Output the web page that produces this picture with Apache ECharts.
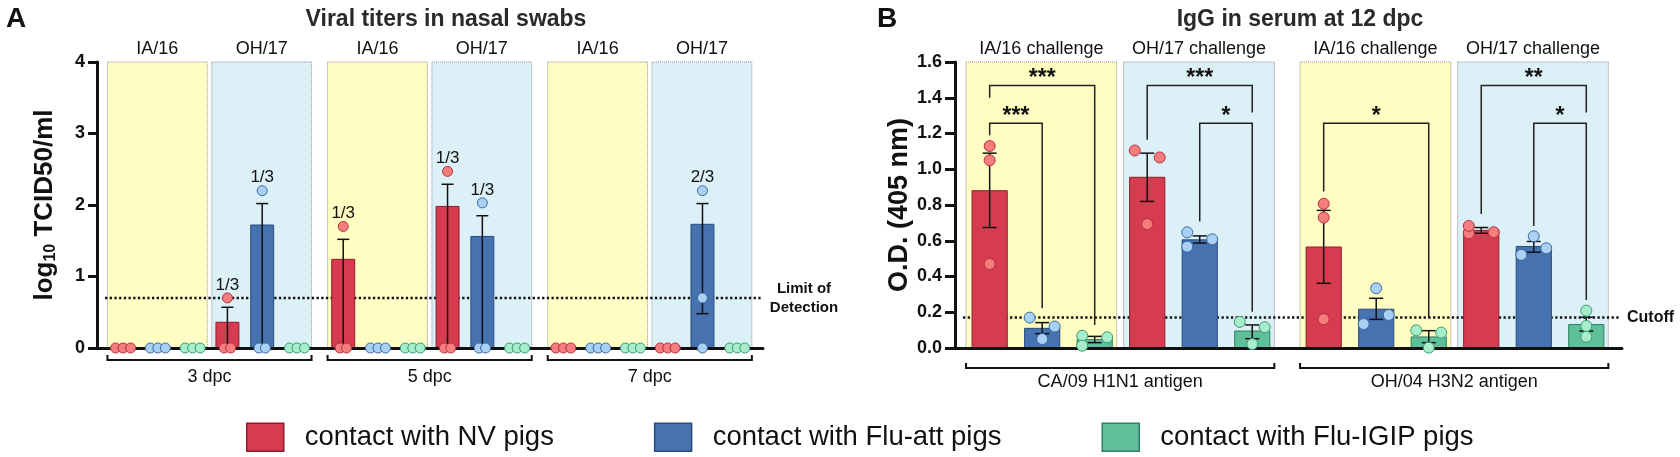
<!DOCTYPE html>
<html>
<head>
<meta charset="utf-8">
<script src="https://cdn.jsdelivr.net/npm/echarts@6/dist/echarts.min.js"></script>
<style>
  html, body { margin: 0; padding: 0; background: #fff; }
  #chart { width: 1680px; height: 457px; }
</style>
</head>
<body>
<div id="chart"></div>
<script>
// ---------- data : panel A (viral titers, log10 TCID50/ml) ----------
const dpcLabels = ['3 dpc', '5 dpc', '7 dpc'];
const strainA = ['IA/16', 'OH/17', 'IA/16', 'OH/17', 'IA/16', 'OH/17'];
const titerNV     = [0, 0.36, 1.24, 1.98, 0, 0];
const titerAtt    = [0, 1.72, 0, 1.56, 0, 1.73];
const titerIGIP   = [0, 0, 0, 0, 0, 0];
const titerHiNV   = [0, 0.57, 1.52, 2.29, 0, 0];
const titerHiAtt  = [0, 2.02, 0, 1.85, 0, 2.02];
const titerHiIGIP = [0, 0, 0, 0, 0, 0];
const titerLoNV   = [0, 0, 0, 0, 0, 0];
const titerLoAtt  = [0, 0, 0, 0, 0, 0.48];
const titerLoIGIP = [0, 0, 0, 0, 0, 0];
const pigsNV   = [[0, 0, 0], [0.7, 0, 0], [1.7, 0, 0], [2.47, 0, 0], [0, 0, 0], [0, 0, 0]];
const pigsAtt  = [[0, 0, 0], [2.2, 0, 0], [0, 0, 0], [2.03, 0, 0], [0, 0, 0], [2.2, 0.7, 0]];
const pigsIGIP = [[0, 0, 0], [0, 0, 0], [0, 0, 0], [0, 0, 0], [0, 0, 0], [0, 0, 0]];
const positiveNV   = ['', '1/3', '1/3', '1/3', '', ''];
const positiveAtt  = ['', '1/3', '', '1/3', '', '2/3'];
const positiveIGIP = ['', '', '', '', '', ''];
const limitOfDetection = 0.7;
const yTicksA = [0, 1, 2, 3, 4];

// ---------- data : panel B (IgG O.D. 405 nm) ----------
const antigenLabels = ['CA/09 H1N1 antigen', 'OH/04 H3N2 antigen'];
const challengeB = ['IA/16 challenge', 'OH/17 challenge', 'IA/16 challenge', 'OH/17 challenge'];
const odNV     = [0.88, 0.955, 0.565, 0.658];
const odAtt    = [0.11, 0.605, 0.217, 0.568];
const odIGIP   = [0.047, 0.095, 0.062, 0.131];
const odHiNV   = [1.09, 1.09, 0.77, 0.674];
const odHiAtt  = [0.142, 0.627, 0.278, 0.596];
const odHiIGIP = [0.065, 0.129, 0.097, 0.172];
const odLoNV   = [0.674, 0.82, 0.362, 0.642];
const odLoAtt  = [0.08, 0.587, 0.16, 0.536];
const odLoIGIP = [0.03, 0.052, 0.03, 0.095];
const serumNV   = [[1.13, 1.05, 0.47], [1.105, 1.066, 0.693], [0.807, 0.73, 0.161], [0.642, 0.648, 0.683]];
const serumAtt  = [[0.17, 0.12, 0.05], [0.647, 0.608, 0.567], [0.334, 0.134, 0.185], [0.625, 0.521, 0.558]];
const serumIGIP = [[0.069, 0.06, 0.013], [0.146, 0.116, 0.022], [0.099, 0.086, 0.002], [0.209, 0.123, 0.063]];
const cutoff = 0.17;
// significance brackets: box, compared groups, bracket level, leg ends
const sigBox   = [0, 0, 1, 1, 2, 3, 3];
const sigFrom  = [0, 0, 0, 1, 0, 0, 1];
const sigTo    = [2, 1, 2, 2, 2, 2, 2];
const sigLevel = [1.468, 1.258, 1.468, 1.258, 1.258, 1.468, 1.258];
const sigLeft  = [1.40, 1.19, 1.165, 0.708, 0.876, 0.749, 0.683];
const sigRight = [0.129, 0.222, 1.318, 0.203, 0.166, 1.318, 0.269];
const sigText  = ['***', '***', '***', '*', '*', '**', '*'];

// ---------- styles ----------
const FONT = '"Liberation Sans", Arial, Helvetica, sans-serif';
const GROUP_NAMES = ['contact with NV pigs', 'contact with Flu-att pigs', 'contact with Flu-IGIP pigs'];
const BAR_FILL = ['#d63b50', '#4672b0', '#5fbf9b'];
const BAR_EDGE = ['#8c1d2c', '#2b4b7c', '#2f8062'];
const DOT_FILL = ['#f47d7d', '#aad0f3', '#a8edcb'];
const DOT_EDGE = ['#b8303f', '#3a69a6', '#3b9a70'];
const BOX_FILL = ['#fffdc2', '#dcf0f8'];

const panels = [
  {
    period: 6.33, xmin: -0.75, xmax: 18.4, ymax: 4, barW: 0.66, cap: 12, r: 5,
    boxLabels: strainA, spanLabels: dpcLabels,
    means: [titerNV, titerAtt, titerIGIP], his: [titerHiNV, titerHiAtt, titerHiIGIP],
    los: [titerLoNV, titerLoAtt, titerLoIGIP], pigs: [pigsNV, pigsAtt, pigsIGIP],
    tags: [positiveNV, positiveAtt, positiveIGIP],
    swarm: { near: 10, step: 12, eq2: 6.5, eq3: 7.5 },
    ref: limitOfDetection, refText: 'Limit of\nDetection',
    bracketDy: 12, bracketTextDy: 29
  },
  {
    period: 6.36, xmin: -0.66, xmax: 12.04, ymax: 1.6, barW: 0.67, cap: 14, r: 5.5,
    boxLabels: challengeB, spanLabels: antigenLabels,
    means: [odNV, odAtt, odIGIP], his: [odHiNV, odHiAtt, odHiIGIP],
    los: [odLoNV, odLoAtt, odLoIGIP], pigs: [serumNV, serumAtt, serumIGIP],
    tags: null,
    swarm: { near: 10, step: 12.5, eq2: 6.5, eq3: 7.5 },
    ref: cutoff, refText: 'Cutoff',
    bracketDy: 20, bracketTextDy: 34
  }
];

function slotX(p, box, g) { return Math.floor(box / 2) * p.period + (box % 2) * 3 + g; }

// spread dots that would overlap (GraphPad-like scatter)
function swarm(pys, s) {
  const n = pys.length;
  const idx = pys.map((_, i) => i).sort((a, b) => pys[a] - pys[b]);
  const off = new Array(n).fill(0);
  let i = 0;
  while (i < n) {
    let j = i;
    while (j + 1 < n && pys[idx[j + 1]] - pys[idx[j]] < s.near) j++;
    const mem = idx.slice(i, j + 1).sort((a, b) => a - b);
    const m = mem.length;
    if (m > 1) {
      if (pys[idx[j]] - pys[idx[i]] < 2) {
        const st = m === 2 ? s.eq2 : s.eq3;
        mem.forEach((d, k) => { off[d] = (k - (m - 1) / 2) * st; });
      } else {
        mem.forEach((d, k) => { off[d] = (k % 2 === 0 ? -1 : 1) * s.step; });
      }
    }
    i = j + 1;
  }
  return off;
}

const series = [];
panels.forEach((p, pi) => {
  const nBox = p.boxLabels.length;
  const boxes = Array.from({ length: nBox }, (_, b) => b);
  const ax = { xAxisIndex: pi, yAxisIndex: pi };

  // shaded strain boxes + strain labels
  series.push(Object.assign({
    type: 'custom', z: 1, silent: true,
    data: boxes.map(b => [slotX(p, b, 0), 0]),
    renderItem(params, api) {
      const x = api.value(0), k = params.dataIndex;
      const tl = api.coord([x - 0.45, p.ymax]), br = api.coord([x + 2.42, 0]);
      return { type: 'group', children: [
        { type: 'rect', shape: { x: tl[0], y: tl[1], width: br[0] - tl[0], height: br[1] - tl[1] },
          style: { fill: BOX_FILL[k % 2], stroke: '#8f8f8f', lineWidth: 1, lineDash: [1, 1] } },
        { type: 'text', x: (tl[0] + br[0]) / 2, y: tl[1] - 13,
          style: { text: p.boxLabels[k], fontSize: 18, fontFamily: FONT, fill: '#111', align: 'center', verticalAlign: 'middle' } }
      ] };
    }
  }, ax));

  // reference dotted line (LOD / cutoff)
  series.push(Object.assign({
    type: 'custom', z: 1.5, silent: true,
    data: [[p.xmin, p.ref]],
    renderItem(params, api) {
      const a = api.coord([p.xmin, api.value(1)]), b = api.coord([p.xmax, api.value(1)]);
      const label = pi === 0
        ? { type: 'text', x: b[0] + 41, y: b[1], style: { text: p.refText, align: 'center', verticalAlign: 'middle', lineHeight: 19, fontSize: 15, fontWeight: 'bold', fontFamily: FONT, fill: '#111' } }
        : { type: 'text', x: b[0] + 5, y: b[1], style: { text: p.refText, align: 'left', verticalAlign: 'middle', fontSize: 16, fontWeight: 'bold', fontFamily: FONT, fill: '#111' } };
      return { type: 'group', children: [
        { type: 'line', shape: { x1: a[0] + 8, y1: a[1], x2: b[0] - 2, y2: b[1] },
          style: { stroke: '#111', lineWidth: 2.5, lineDash: [2.3, 2.4] } },
        label
      ] };
    }
  }, ax));

  // span brackets below the axis
  series.push(Object.assign({
    type: 'custom', z: 3, silent: true,
    data: p.spanLabels.map((_, s) => [slotX(p, 2 * s, 0), slotX(p, 2 * s + 1, 0)]),
    renderItem(params, api) {
      const a = api.coord([api.value(0) - 0.45, 0]), b = api.coord([api.value(1) + 2.42, 0]);
      const y = a[1] + p.bracketDy;
      return { type: 'group', children: [
        { type: 'polyline', shape: { points: [[a[0], y - 5], [a[0], y], [b[0], y], [b[0], y - 5]] },
          style: { stroke: '#111', lineWidth: 2, fill: null } },
        { type: 'text', x: (a[0] + b[0]) / 2, y: a[1] + p.bracketTextDy,
          style: { text: p.spanLabels[params.dataIndex], fontSize: 18, fontFamily: FONT, fill: '#111', align: 'center', verticalAlign: 'middle' } }
      ] };
    }
  }, ax));

  // bars
  [0, 1, 2].forEach(g => {
    series.push(Object.assign({
      type: 'custom', name: GROUP_NAMES[g], z: 2, silent: true,
      itemStyle: { color: BAR_FILL[g] },
      data: boxes.map(b => [slotX(p, b, g), p.means[g][b]]),
      renderItem(params, api) {
        const x = api.value(0), v = api.value(1);
        if (!(v > 0)) return null;
        const base = api.coord([x, 0]), top = api.coord([x, v]);
        const w = api.size([p.barW, 0])[0];
        return { type: 'rect', shape: { x: base[0] - w / 2, y: top[1], width: w, height: base[1] - top[1] },
          style: { fill: BAR_FILL[g], stroke: BAR_EDGE[g], lineWidth: 1 } };
      }
    }, ax));
  });

  // error bars
  const errData = [];
  [0, 1, 2].forEach(g => boxes.forEach(b => {
    if (p.his[g][b] > 0) errData.push([slotX(p, b, g), p.los[g][b], p.his[g][b]]);
  }));
  series.push(Object.assign({
    type: 'custom', z: 4, silent: true,
    data: errData,
    renderItem(params, api) {
      const x = api.value(0);
      const lo = api.coord([x, api.value(1)]), hi = api.coord([x, api.value(2)]);
      const h = p.cap / 2, st = { stroke: '#111', lineWidth: 1.5 };
      return { type: 'group', children: [
        { type: 'line', shape: { x1: lo[0], y1: lo[1], x2: hi[0], y2: hi[1] }, style: st },
        { type: 'line', shape: { x1: hi[0] - h, y1: hi[1], x2: hi[0] + h, y2: hi[1] }, style: st },
        { type: 'line', shape: { x1: lo[0] - h, y1: lo[1], x2: lo[0] + h, y2: lo[1] }, style: st }
      ] };
    }
  }, ax));

  // individual pigs
  const dotData = [], dotMeta = [];
  [0, 1, 2].forEach(g => boxes.forEach(b => {
    dotData.push([slotX(p, b, g)].concat(p.pigs[g][b]));
    dotMeta.push({ g: g, tag: p.tags ? p.tags[g][b] : '' });
  }));
  series.push(Object.assign({
    type: 'custom', z: 5, silent: true,
    data: dotData,
    renderItem(params, api) {
      const meta = dotMeta[params.dataIndex], x = api.value(0);
      const pts = [1, 2, 3].map(d => api.coord([x, api.value(d)]));
      const off = swarm(pts.map(q => q[1]), p.swarm);
      const kids = pts.map((q, d) => ({
        type: 'circle', shape: { cx: q[0] + off[d], cy: q[1], r: p.r },
        style: { fill: DOT_FILL[meta.g], stroke: DOT_EDGE[meta.g], lineWidth: 1 }
      }));
      if (meta.tag) {
        const topY = Math.min.apply(null, pts.map(q => q[1]));
        kids.push({ type: 'text', x: pts[0][0], y: topY - 13,
          style: { text: meta.tag, fontSize: 17, fontFamily: FONT, fill: '#111', align: 'center', verticalAlign: 'middle' } });
      }
      return { type: 'group', children: kids };
    }
  }, ax));
});

// significance brackets (panel B)
series.push({
  type: 'custom', xAxisIndex: 1, yAxisIndex: 1, z: 6, silent: true,
  data: sigBox.map((b, i) => [slotX(panels[1], b, sigFrom[i]), slotX(panels[1], b, sigTo[i]), sigLevel[i], sigLeft[i], sigRight[i]]),
  renderItem(params, api) {
    const x1 = api.value(0), x2 = api.value(1), lv = api.value(2);
    const a = api.coord([x1, lv]), b = api.coord([x2, lv]);
    const l = api.coord([x1, api.value(3)]), r = api.coord([x2, api.value(4)]);
    return { type: 'group', children: [
      { type: 'polyline', shape: { points: [l, a, b, r] }, style: { stroke: '#222', lineWidth: 1.5, fill: null } },
      { type: 'text', x: (a[0] + b[0]) / 2, y: a[1] + 5,
        style: { text: sigText[params.dataIndex], fontSize: 23, fontWeight: 'bold', fontFamily: FONT, fill: '#111', align: 'center', verticalAlign: 'bottom' } }
    ] };
  }
});

const xLine = { show: true, onZero: false, lineStyle: { color: '#111', width: 3 } };
const yLine = { show: true, onZero: false, lineStyle: { color: '#111', width: 3 } };
const option = {
  animation: false,
  backgroundColor: '#fff',
  title: [
    { text: 'A', left: 1, top: 0, textStyle: { fontSize: 28, fontWeight: 'bold', fontFamily: FONT, color: '#111' } },
    { text: 'Viral titers in nasal swabs', left: 441, top: 3, textAlign: 'center', textStyle: { fontSize: 23, fontWeight: 'bold', fontFamily: FONT, color: '#2a2a2a' } },
    { text: 'B', left: 872, top: 0, textStyle: { fontSize: 28, fontWeight: 'bold', fontFamily: FONT, color: '#111' } },
    { text: 'IgG in serum at 12 dpc', left: 1295, top: 3, textAlign: 'center', textStyle: { fontSize: 23, fontWeight: 'bold', fontFamily: FONT, color: '#2a2a2a' } }
  ],
  legend: {
    bottom: 0, left: 241, itemWidth: 37, itemHeight: 28, itemGap: 100,
    selectedMode: false,
    textStyle: { fontSize: 27.5, fontFamily: FONT, color: '#111', padding: [0, 0, 0, 16] },
    data: GROUP_NAMES.map((n, g) => ({ name: n, icon: 'rect', itemStyle: { color: BAR_FILL[g], borderColor: BAR_EDGE[g], borderWidth: 1.5 } }))
  },
  grid: [
    { left: 97, top: 62, width: 666, height: 286 },
    { left: 955, top: 62, width: 667, height: 286 }
  ],
  xAxis: panels.map((p, i) => ({
    type: 'value', gridIndex: i, min: p.xmin, max: p.xmax, z: 3,
    axisLine: xLine, axisTick: { show: false }, axisLabel: { show: false }, splitLine: { show: false }
  })),
  yAxis: [
    {
      type: 'value', gridIndex: 0, min: yTicksA[0], max: yTicksA[yTicksA.length - 1], interval: 1, z: 3,
      name: 'log{sub|10} TCID50/ml', nameLocation: 'middle', nameRotate: 90, nameGap: 38,
      nameTextStyle: { fontSize: 26, fontWeight: 'bold', fontFamily: FONT, color: '#111',
        rich: { sub: { fontSize: 16, fontWeight: 'bold', fontFamily: FONT, color: '#111', verticalAlign: 'bottom', padding: [12, 0, 0, 0] } } },
      axisLine: yLine, axisTick: { show: true, length: 9, lineStyle: { color: '#111', width: 3 } },
      axisLabel: { fontSize: 18, fontWeight: 'bold', fontFamily: FONT, color: '#111', margin: 12 },
      splitLine: { show: false }
    },
    {
      type: 'value', gridIndex: 1, min: 0, max: 1.6, interval: 0.2, z: 3,
      name: 'O.D. (405 nm)', nameLocation: 'middle', nameRotate: 90, nameGap: 42,
      nameTextStyle: { fontSize: 27, fontWeight: 'bold', fontFamily: FONT, color: '#111' },
      axisLine: yLine, axisTick: { show: true, length: 10, lineStyle: { color: '#111', width: 3 } },
      axisLabel: { fontSize: 18, fontWeight: 'bold', fontFamily: FONT, color: '#111', margin: 13, formatter: v => v.toFixed(1) },
      splitLine: { show: false }
    }
  ],
  series: series
};

const chart = echarts.init(document.getElementById('chart'));
chart.setOption(option);
window.addEventListener('resize', function () { chart.resize(); });
</script>
</body>
</html>
